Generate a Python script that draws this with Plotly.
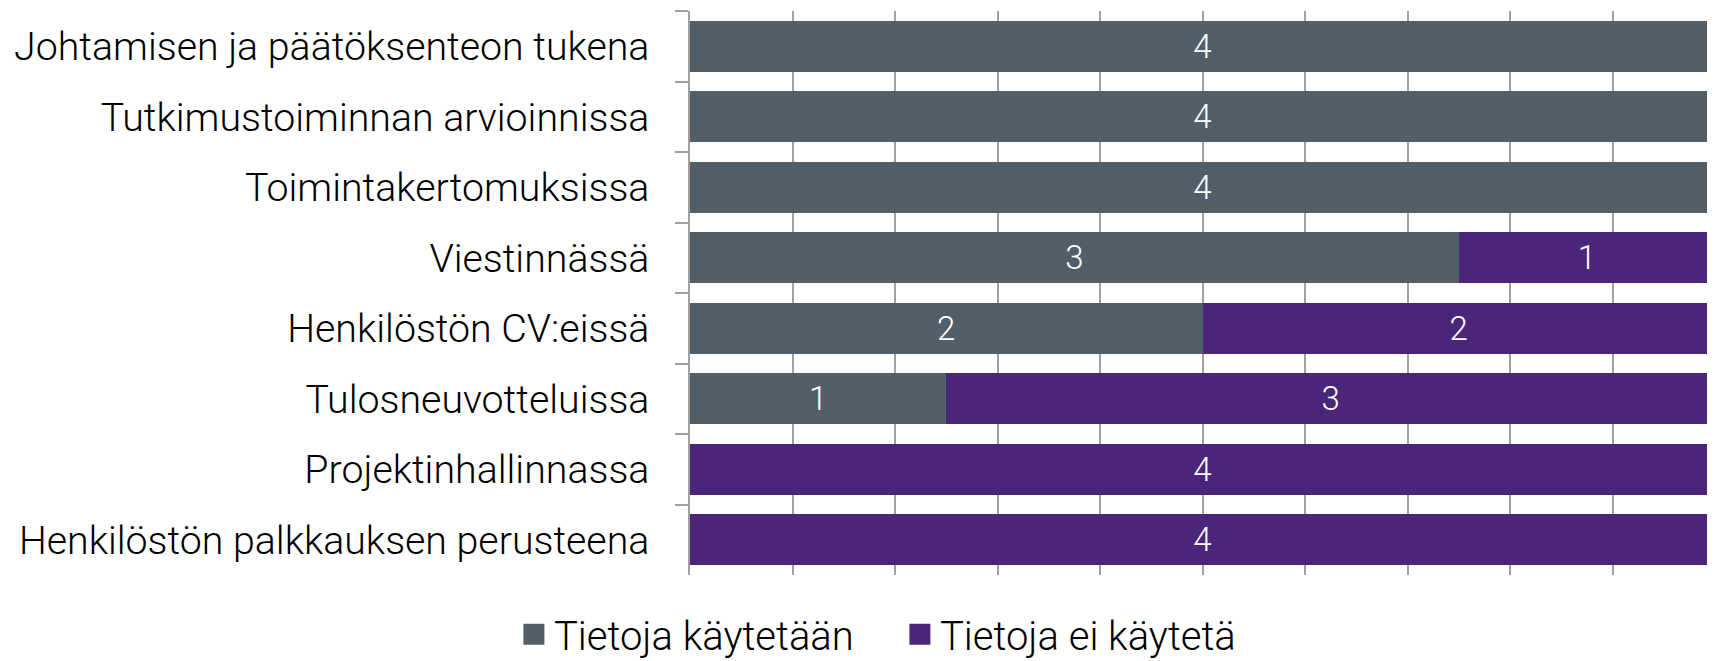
import plotly.graph_objects as go

categories = [
    "Johtamisen ja päätöksenteon tukena",
    "Tutkimustoiminnan arvioinnissa",
    "Toimintakertomuksissa",
    "Viestinnässä",
    "Henkilöstön CV:eissä",
    "Tulosneuvotteluissa",
    "Projektinhallinnassa",
    "Henkilöstön palkkauksen perusteena",
]
used = [4, 4, 4, 3, 2, 1, 0, 0]
not_used = [0, 0, 0, 1, 2, 3, 4, 4]
series_names = ["Tietoja käytetään", "Tietoja ei käytetä"]
colors = ["#525f68", "#4b257a"]

FONT = "Roboto"

fig = go.Figure()
for name, vals, col in zip(series_names, [used, not_used], colors):
    fig.add_trace(go.Bar(
        y=categories, x=vals, name=name, orientation="h",
        marker=dict(color=col, line=dict(width=0)),
        text=[str(v) if v else "" for v in vals],
        textposition="inside", insidetextanchor="middle",
        textfont=dict(color="white", size=33, family=FONT, weight=300),
        hoverinfo="skip", showlegend=False, legendgroup=name,
    ))
# legend entries with larger square swatches
for name, col in zip(series_names, colors):
    fig.add_trace(go.Scatter(
        x=[None], y=[None], mode="markers", name=name, legendgroup=name,
        marker=dict(symbol="square", size=16, color=col, line=dict(width=5, color=col)),
        hoverinfo="skip",
    ))

fig.update_layout(
    barmode="stack",
    bargap=0.28,
    width=1707, height=653,
    margin=dict(l=682, r=0, t=3, b=86, autoexpand=False),
    paper_bgcolor="white", plot_bgcolor="white",
    font=dict(family=FONT, color="black", weight=300),
    showlegend=True,
    legend=dict(orientation="h", x=0.5225, xanchor="center", xref="container",
                y=0.041, yanchor="middle", yref="container",
                font=dict(size=40, family=FONT, weight=300),
                itemwidth=30, entrywidth=341, traceorder="normal", itemclick=False),
)
fig.update_xaxes(range=[0, 4], dtick=0.4, showgrid=True, gridcolor="#a0a0a0",
                 gridwidth=1.5, showticklabels=False, zeroline=False, showline=False,
                 ticks="")
fig.update_yaxes(autorange="reversed", tickson="boundaries", ticks="outside",
                 ticklen=13, tickcolor="#a0a0a0", tickwidth=1.5,
                 showline=True, linecolor="#a0a0a0", linewidth=1.5, automargin=False,
                 showgrid=False, tickfont=dict(size=39.3, family=FONT, color="black", weight=300),
                 ticklabelstandoff=31)
fig.write_html("out.html")
